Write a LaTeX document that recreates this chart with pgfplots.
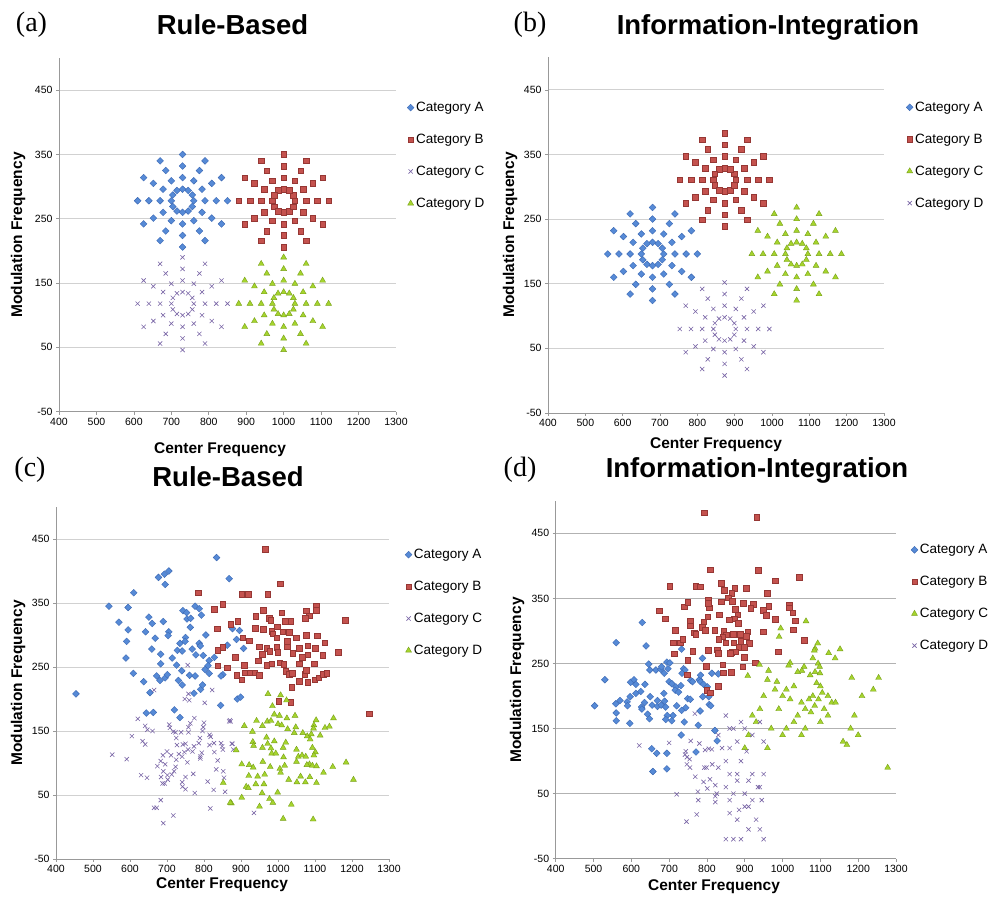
\documentclass[border=0pt]{standalone}
\usepackage{pgfplots}
\pgfplotsset{compat=1.18}
\usepackage{fontspec}
\setmainfont{Liberation Sans}
\newfontfamily\panelfont{Liberation Serif}
\definecolor{cA}{RGB}{86,138,214}
\definecolor{cAd}{RGB}{60,105,180}
\definecolor{cB}{RGB}{196,82,78}
\definecolor{cBd}{RGB}{150,55,52}
\definecolor{cP}{RGB}{120,100,165}
\definecolor{cG}{RGB}{165,212,45}
\definecolor{cGd}{RGB}{120,160,25}
\pgfplotsset{
 panel/.style={
   scale only axis, xmin=400, xmax=1300, ymin=-50, ymax=500,
   xtick={400,500,...,1300}, ytick={-50,50,...,450},
   axis x line*=bottom, axis y line*=left,
   axis line style={draw=black!40, line width=0.8pt},
   ymajorgrids, major grid style={draw=black!18, line width=0.8pt},
   tick align=outside, major tick length=3pt, tick style={draw=black!40, line width=0.6pt},
   tick label style={font=\fontsize{10.5}{12}\selectfont},
   /pgf/number format/assume math mode=true,
   /pgf/number format/1000 sep={},
   legend cell align=left,
   legend style={draw=none, fill=none, font=\fontsize{13.5}{15}\selectfont, row sep=17pt, anchor=north west,
     /tikz/every even column/.append style={column sep=6pt}},
   legend image code/.code={\draw[##1] plot coordinates {(0pt,0pt)};},
   clip=false
 },
 mA/.style={only marks, mark=square*, mark size=2.4pt, mark options={rotate=45, fill=cA, draw=cAd, line width=0.4pt}},
 mB/.style={only marks, mark=square*, mark size=2.8pt, mark options={fill=cB, draw=cBd, line width=0.4pt}},
 mP/.style={only marks, mark=x, mark size=3pt, mark options={draw=cP, line width=0.6pt}},
 mG/.style={only marks, mark=triangle*, mark size=3.4pt, mark options={fill=cG, draw=cGd, line width=0.4pt}},
}
\begin{document}
\begin{tikzpicture}
\useasboundingbox (0pt,0pt) rectangle (989pt,902pt);
% ---------------- (a)
\begin{axis}[panel, at={(59pt,490.3pt)}, anchor=south west, width=337pt, height=353.7pt,
  legend style={at={(axis description cs:1.024,0.887)}}]
\addplot[mA] coordinates {
(760,278)(756,287)(745,294)(730,296)(715,294)(704,287)(700,278)(704,269)(715,262)(730,260)(745,262)(756,269)
(790,278)(782,296)(760,309)(730,314)(700,309)(678,296)(670,278)(678,260)(700,247)(730,242)(760,247)(782,260)
(820,278)(808,305)(775,325)(730,332)(685,325)(652,305)(640,278)(652,251)(685,231)(730,224)(775,231)(808,251)
(850,278)(834,314)(790,340)(730,350)(670,340)(626,314)(610,278)(626,242)(670,216)(730,206)(790,216)(834,242)};
\addlegendentry{Category A}
\addplot[mB] coordinates {
(1030,278)(1026,287)(1015,294)(1000,296)(985,294)(974,287)(970,278)(974,269)(985,262)(1000,260)(1015,262)(1026,269)
(1060,278)(1052,296)(1030,309)(1000,314)(970,309)(948,296)(940,278)(948,260)(970,247)(1000,242)(1030,247)(1052,260)
(1090,278)(1078,305)(1045,325)(1000,332)(955,325)(922,305)(910,278)(922,251)(955,231)(1000,224)(1045,231)(1078,251)
(1120,278)(1104,314)(1060,340)(1000,350)(940,340)(896,314)(880,278)(896,242)(940,216)(1000,206)(1060,216)(1104,242)};
\addlegendentry{Category B}
\addplot[mP] coordinates {
(760,118)(756,127)(745,134)(730,136)(715,134)(704,127)(700,118)(704,109)(715,102)(730,100)(745,102)(756,109)
(790,118)(782,136)(760,149)(730,154)(700,149)(678,136)(670,118)(678,100)(700,87)(730,82)(760,87)(782,100)
(820,118)(808,145)(775,165)(730,172)(685,165)(652,145)(640,118)(652,91)(685,71)(730,64)(775,71)(808,91)
(850,118)(834,154)(790,180)(730,190)(670,180)(626,154)(610,118)(626,82)(670,56)(730,46)(790,56)(834,82)};
\addlegendentry{Category C}
\addplot[mG] coordinates {
(1030,118)(1026,127)(1015,134)(1000,136)(985,134)(974,127)(970,118)(974,109)(985,102)(1000,100)(1015,102)(1026,109)
(1060,118)(1052,136)(1030,149)(1000,154)(970,149)(948,136)(940,118)(948,100)(970,87)(1000,82)(1030,87)(1052,100)
(1090,118)(1078,145)(1045,165)(1000,172)(955,165)(922,145)(910,118)(922,91)(955,71)(1000,64)(1045,71)(1078,91)
(1120,118)(1104,154)(1060,180)(1000,190)(940,180)(896,154)(880,118)(896,82)(940,56)(1000,46)(1060,56)(1104,82)};
\addlegendentry{Category D}
\end{axis}
% ---------------- (b)
\begin{axis}[panel, at={(548pt,489pt)}, anchor=south west, width=336pt, height=355.5pt,
  legend style={at={(axis description cs:1.057,0.887)}}]
\addplot[mA] coordinates {
(710,196)(706,205)(695,212)(680,214)(665,212)(654,205)(650,196)(654,187)(665,180)(680,178)(695,180)(706,187)
(740,196)(732,214)(710,227)(680,232)(650,227)(628,214)(620,196)(628,178)(650,165)(680,160)(710,165)(732,178)
(770,196)(758,223)(725,243)(680,250)(635,243)(602,223)(590,196)(602,169)(635,149)(680,142)(725,149)(758,169)
(800,196)(784,232)(740,258)(680,268)(620,258)(576,232)(560,196)(576,160)(620,134)(680,124)(740,134)(784,160)};
\addlegendentry{Category A}
\addplot[mB] coordinates {
(903,311)(899,320)(888,327)(873,329)(858,327)(847,320)(843,311)(847,302)(858,295)(873,293)(888,295)(899,302)
(933,311)(925,329)(903,342)(873,347)(843,342)(821,329)(813,311)(821,293)(843,280)(873,275)(903,280)(925,293)
(963,311)(951,338)(918,358)(873,365)(828,358)(795,338)(783,311)(795,284)(828,264)(873,257)(918,264)(951,284)
(993,311)(977,347)(933,373)(873,383)(813,373)(769,347)(753,311)(769,275)(813,249)(873,239)(933,249)(977,275)};
\addlegendentry{Category B}
\addplot[mG] coordinates {
(1096,196)(1092,205)(1081,212)(1066,214)(1051,212)(1040,205)(1036,196)(1040,187)(1051,180)(1066,178)(1081,180)(1092,187)
(1126,196)(1118,214)(1096,227)(1066,232)(1036,227)(1014,214)(1006,196)(1014,178)(1036,165)(1066,160)(1096,165)(1118,178)
(1156,196)(1144,223)(1111,243)(1066,250)(1021,243)(988,223)(976,196)(988,169)(1021,149)(1066,142)(1111,149)(1144,169)
(1186,196)(1170,232)(1126,258)(1066,268)(1006,258)(962,232)(946,196)(962,160)(1006,134)(1066,124)(1126,134)(1170,160)};
\addlegendentry{Category C}
\addplot[mP] coordinates {
(903,80)(899,89)(888,96)(873,98)(858,96)(847,89)(843,80)(847,71)(858,64)(873,62)(888,64)(899,71)
(933,80)(925,98)(903,111)(873,116)(843,111)(821,98)(813,80)(821,62)(843,49)(873,44)(903,49)(925,62)
(963,80)(951,107)(918,127)(873,134)(828,127)(795,107)(783,80)(795,53)(828,33)(873,26)(918,33)(951,53)
(993,80)(977,116)(933,142)(873,152)(813,142)(769,116)(753,80)(769,44)(813,18)(873,8)(933,18)(977,44)};
\addlegendentry{Category D}
\end{axis}
% ---------------- (c)
\begin{axis}[panel, at={(56pt,43pt)}, anchor=south west, width=333pt, height=352pt,
  legend style={at={(axis description cs:1.039,0.892)}}]
\addplot[mA] coordinates {
(834,421)(868,388)(677,390)(693,395)(705,400)(695,379)(610,366)(543,345)(595,343)(570,320)(595,308)(591,290)(589,264)
(642,305)(651,328)(660,318)(668,295)(659,278)(690,321)(705,305)(703,299)(683,270)(683,255)(714,264)(726,253)(728,276)
(735,287)(743,338)(753,335)(754,325)(764,326)(763,312)(750,296)(749,290)(741,275)(768,278)(776,345)(787,341)(793,331)
(805,300)(787,287)(778,269)(798,268)(814,260)(790,283)(740,244)(761,237)(811,252)(828,265)(851,238)(863,284)(877,310)
(896,307)(888,293)(907,279)(609,240)(672,236)
(454,208)(637,227)(654,210)(644,178)(663,179)(681,229)(695,233)(701,238)(731,229)(741,222)(773,209)(776,236)(791,215)
(796,222)(803,246)(814,240)(846,236)(845,190)(720,183)(735,171)(890,200)(899,203)};
\addlegendentry{Category A}
\addplot[mB] coordinates {
(784,366)(828,340)(851,348)(836,310)(872,317)(891,322)(837,276)(851,281)(886,266)(837,252)(862,249)
(965,434)(1006,380)(902,364)(920,364)(972,364)(1103,345)(1103,339)(1076,338)(1085,330)(1073,326)(1181,323)(960,339)
(940,329)(1010,335)(977,326)(980,323)(1019,322)(1034,322)(938,311)(960,309)(998,313)(983,306)(1013,305)(1031,304)
(986,302)(905,296)(997,296)(1049,296)(1076,300)(1106,299)(922,291)(1025,290)
(950,282)(969,279)(996,281)(1025,282)(1058,279)(1080,283)(1100,279)(1126,288)(1162,273)(957,270)(978,275)(999,273)
(1040,272)(1080,269)(1121,268)(885,265)(908,253)(946,260)(969,253)(983,255)(1005,257)(1015,254)(1058,255)(1066,265)
(1098,255)(911,241)(924,241)(937,241)(950,237)(888,237)(902,230)(1021,243)(1031,239)(1038,240)(1072,239)(1077,245)
(1057,228)(1080,226)(1099,230)(1110,233)(1122,239)(1132,240)(1037,218)(1002,197)(1034,195)(1247,177)};
\addlegendentry{Category B}
\addplot[mP] coordinates {
(665,214)(621,169)(641,158)(647,152)(661,150)(605,142)(634,134)(641,129)(552,113)(591,106)(630,81)(646,77)(674,95)
(683,103)(689,112)(700,118)(711,112)(695,98)(690,87)(701,81)(684,78)(688,68)(694,68)(702,74)(713,82)(719,87)(723,94)
(725,105)(732,114)(741,110)(747,117)(750,130)(743,129)(727,128)(725,139)(708,155)(717,149)(723,148)(706,160)(738,148)
(758,148)(763,162)(774,170)(758,156)(748,200)(758,208)(760,198)(756,253)(822,214)(802,194)(800,163)(798,156)(796,150)
(789,139)(786,131)(773,126)(769,118)(757,121)(755,101)(771,83)(750,78)(741,70)(742,63)(750,59)(775,53)(810,71)(826,58)
(817,29)(717,18)(690,6)(665,30)(672,30)(683,42)(790,107)(790,110)(794,116)(815,128)(827,131)(828,117)(837,104)(833,90)
(852,87)(854,77)(857,55)(846,131)(849,126)(851,121)(877,130)(879,121)(868,165)(872,165)(818,141)(815,144)(870,167)
(875,130)(935,22)};
\addlegendentry{Category C}
\addplot[mG] coordinates {
(973,208)(1007,206)(1023,198)(985,189)(990,176)(1004,174)(1024,170)(1046,174)(942,166)(909,158)(958,158)(971,165)
(981,166)(1000,161)(1010,159)(1026,153)(1048,156)(1044,147)(1067,147)(1079,142)(1090,145)(1097,159)(1096,154)(1114,143)
(1127,155)(1139,157)(1150,170)(931,149)(932,133)(934,127)(958,124)(969,140)(972,130)(981,123)(990,134)(983,115)(994,115)
(1014,124)(1021,132)(1015,109)(1050,121)(1055,110)(1065,112)(1075,110)(1087,137)(1093,124)(1101,117)(1097,112)(1085,98)
(1078,97)(1093,96)(1104,95)(1050,102)(887,120)(902,98)(922,97)(933,93)(959,102)(979,94)(1005,91)(1018,96)(1007,85)
(964,82)(945,79)(921,80)(914,63)(920,61)(940,67)(962,67)(1029,74)(1051,70)(1061,79)(1074,70)(1086,78)(1104,69)(1123,85)
(1148,94)(1184,101)(1204,74)(957,53)(999,54)(902,46)(874,37)(950,32)(977,44)(986,38)(1036,35)(1014,13)(1095,12)(1103,167)
(871,38)(852,69)};
\addlegendentry{Category D}
\end{axis}
% ---------------- (d)
\begin{axis}[panel, at={(555.7pt,43.3pt)}, anchor=south west, width=340.3pt, height=357.9pt,
  major grid style={draw=black!30, line width=0.8pt},
  legend style={at={(axis description cs:1.035,0.89)}}]
\addplot[mA] coordinates {
(629,313)(560,282)(639,277)(733,272)(788,258)
(503,185)(530,225)(559,188)(570,193)(589,191)(590,185)(560,174)(560,162)(596,158)(597,199)(598,221)(607,225)(612,218)
(612,204)(625,207)(636,218)(635,190)(627,183)(628,180)(643,172)(648,165)(650,199)(655,186)(669,193)(669,184)(679,186)
(686,204)(688,192)(691,183)(665,240)(649,240)(646,249)(678,241)(680,245)(687,235)(697,242)(694,252)(702,251)(700,222)
(707,219)(718,214)(716,209)(731,216)(725,206)(738,242)(742,240)(734,235)(757,224)(762,222)(780,225)(783,232)(783,222)
(791,218)(801,214)(805,199)(806,187)(810,185)(789,199)(782,177)(749,196)(756,195)(744,182)(733,178)(720,185)(710,170)
(695,170)(691,164)(707,162)(740,160)(777,155)(813,235)(830,234)(732,140)(771,114)(657,84)(694,88)(667,112)(694,112)
(654,119)(821,147)(827,131)};
\addlegendentry{Category A}
\addplot[mB] coordinates {
(792,482)(702,369)(770,369)(782,368)(804,348)(674,331)(689,319)(740,337)(749,344)(716,301)(755,316)(755,308)(766,297)
(770,295)(791,314)(788,306)(795,301)(802,322)(711,282)(729,282)(736,287)(714,265)(762,269)(749,255)(804,270)(798,246)
(747,233)(806,336)(808,394)
(932,475)(936,393)(981,377)(1044,383)(837,373)(845,363)(873,366)(904,366)(866,358)(959,358)(857,351)(803,343)(837,345)
(867,346)(896,343)(923,341)(916,335)(963,338)(948,332)(956,324)(1018,340)(1017,336)(1027,328)(1033,316)(981,318)(832,325)
(874,333)(881,325)(872,319)(859,317)(882,312)(821,301)(844,300)(851,294)(842,291)(870,295)(888,295)(908,299)(904,292)
(831,287)(850,282)(871,282)(889,284)(912,281)(884,275)(898,275)(866,267)(874,268)(862,266)(827,271)(829,266)(949,299)
(1028,302)(1058,286)(988,268)(899,260)(842,248)(895,245)(928,251)(843,236)(864,237)
(799,209)(808,205)(830,215)};
\addlegendentry{Category B}
\addplot[mG] coordinates {
(1062,315)(995,304)(991,291)(1093,281)(1086,273)(1084,270)(1152,272)(1122,266)(1139,258)(1080,258)(1020,251)(1016,247)
(1094,250)(1098,245)(939,248)(1057,245)(1051,239)(1086,237)(1099,235)(963,239)(1040,237)(1073,232)(908,231)(1183,228)
(1254,228)
(1278,90)(1240,210)(1210,200)(1180,150)(1160,130)(1130,190)(1120,200)(1100,215)(1090,220)(1080,200)(1070,195)(1060,180)
(1050,190)(1040,170)(1030,160)(1010,150)(1000,140)(990,180)(980,210)(970,150)(960,120)(950,200)(940,180)(930,160)(920,170)
(910,140)(900,120)(1100,160)(1110,180)(1120,170)(1140,190)(1170,125)(1190,170)(1200,140)(1050,140)(1060,150)(1075,175)
(1085,185)(1095,195)(1105,205)(1000,200)(1010,210)(1020,195)(1030,215)(960,225)(985,222)};
\addlegendentry{Category C}
\addplot[mP] coordinates {
(621,124)(700,128)(757,131)(780,127)(744,115)(742,110)(747,106)(754,103)(747,95)(755,90)(795,117)(805,119)(813,118)
(799,90)(793,90)(814,95)(769,76)(791,68)(808,72)(822,63)(776,53)(777,40)(801,58)(826,50)(822,46)(822,37)(720,49)(773,18)
(746,7)(768,173)
(850,-20)(870,-20)(890,-20)(950,-20)(940,-5)(930,10)(910,30)(900,50)(880,70)(860,80)(850,100)(840,120)(830,140)(860,120)
(880,130)(900,150)(920,80)(935,60)(945,40)(870,150)(890,100)(905,115)(850,60)(830,90)(870,50)(860,40)(885,25)(910,-5)
(880,10)(860,20)(900,30)(920,40)(940,60)(950,80)(910,70)(880,80)(920,140)(940,160)(890,160)(860,150)(850,170)(950,130)};
\addlegendentry{Category D}
\end{axis}
% ---------------- texts
\node[font=\panelfont\fontsize{28}{30}\selectfont] at (31.5pt,877pt) {(a)};
\node[font=\bfseries\fontsize{27.5}{30}\selectfont] at (232.5pt,877pt) {Rule-Based};
\node[font=\panelfont\fontsize{28}{30}\selectfont] at (530pt,877pt) {(b)};
\node[font=\bfseries\fontsize{27.5}{30}\selectfont] at (768pt,875pt) {Information-Integration};
\node[font=\panelfont\fontsize{28}{30}\selectfont] at (30pt,432pt) {(c)};
\node[font=\bfseries\fontsize{27.5}{30}\selectfont] at (228pt,425pt) {Rule-Based};
\node[font=\panelfont\fontsize{28}{30}\selectfont] at (520pt,432pt) {(d)};
\node[font=\bfseries\fontsize{27.5}{30}\selectfont] at (757pt,432pt) {Information-Integration};
\node[font=\bfseries\fontsize{15.5}{17}\selectfont, rotate=90] at (18pt,667pt) {Modulation Frequency};
\node[font=\bfseries\fontsize{15.5}{17}\selectfont, rotate=90] at (510pt,667pt) {Modulation Frequency};
\node[font=\bfseries\fontsize{15.5}{17}\selectfont, rotate=90] at (18pt,219pt) {Modulation Frequency};
\node[font=\bfseries\fontsize{15.5}{17}\selectfont, rotate=90] at (517pt,222pt) {Modulation Frequency};
\node[font=\bfseries\fontsize{15.5}{17}\selectfont] at (220pt,452pt) {Center Frequency};
\node[font=\bfseries\fontsize{15.5}{17}\selectfont] at (716pt,457pt) {Center Frequency};
\node[font=\bfseries\fontsize{15.5}{17}\selectfont] at (222pt,17pt) {Center Frequency};
\node[font=\bfseries\fontsize{15.5}{17}\selectfont] at (714pt,15pt) {Center Frequency};
\end{tikzpicture}
\end{document}
